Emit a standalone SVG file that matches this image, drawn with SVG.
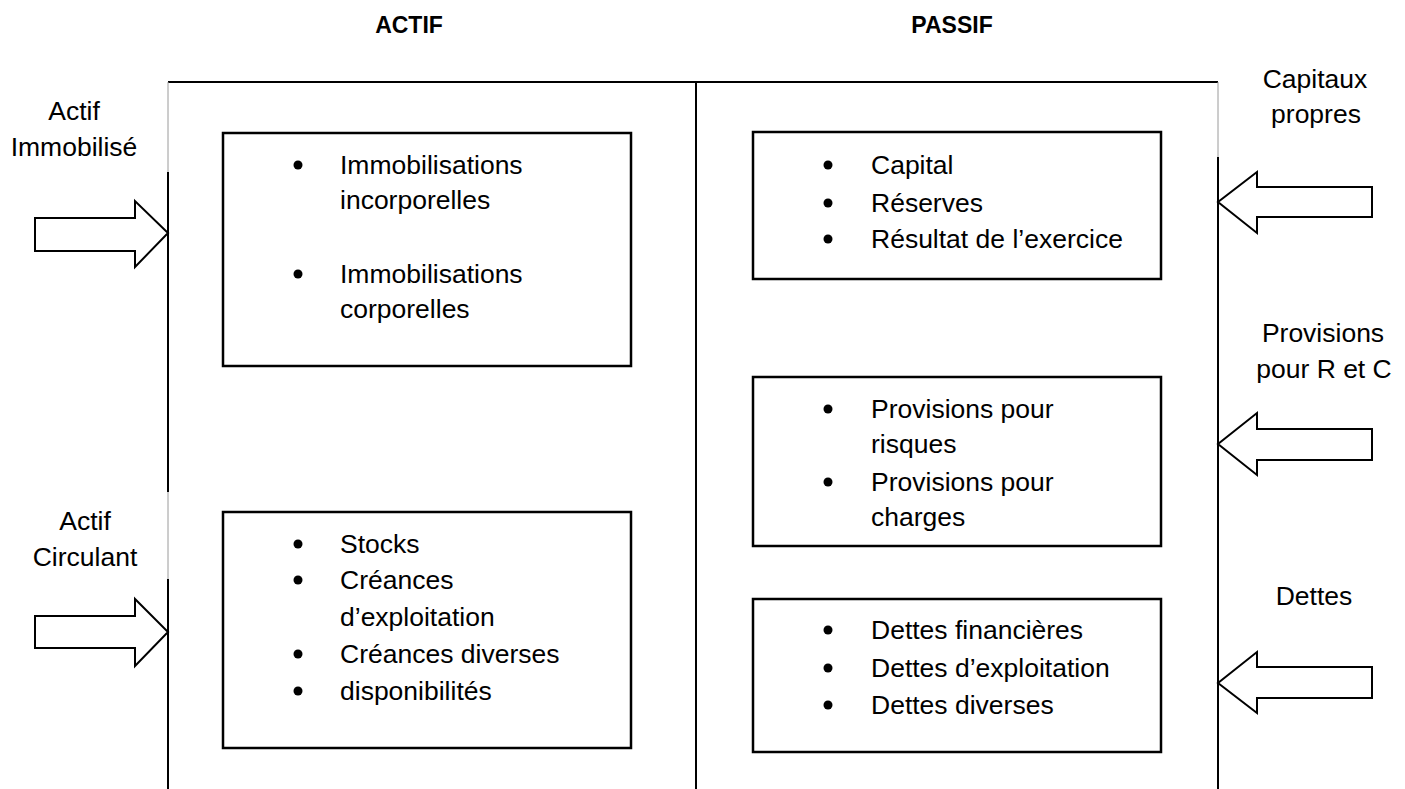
<svg xmlns="http://www.w3.org/2000/svg" width="1405" height="789" viewBox="0 0 1405 789">
<style>
text{font-family:"Liberation Sans",Arial,sans-serif;font-size:26.5px;fill:#000}
.h{font-weight:bold;font-size:23px;text-anchor:middle}
.c{text-anchor:middle}
.box{fill:#fff;stroke:#000;stroke-width:2.5}
.fr{stroke:#000;stroke-width:2;fill:none}
.fg{stroke:#9a9a9a;stroke-width:1;fill:none}
.arr{fill:#fff;stroke:#000;stroke-width:2;stroke-linejoin:miter}
.b{fill:#000}
</style>
<rect width="1405" height="789" fill="#fff"/>
<g id="headers">
<text class="h" x="409" y="33">ACTIF</text>
<text class="h" x="952" y="33">PASSIF</text>
</g>
<g id="frame">
<line class="fr" x1="168" y1="82" x2="1218" y2="82"/>
<line class="fg" x1="168" y1="82" x2="168" y2="172"/>
<line class="fr" x1="168" y1="172" x2="168" y2="492"/>
<line class="fg" x1="168" y1="492" x2="168" y2="579"/>
<line class="fr" x1="168" y1="579" x2="168" y2="789"/>
<line class="fr" x1="696" y1="82" x2="696" y2="789"/>
<line class="fg" x1="1218" y1="82" x2="1218" y2="157"/>
<line class="fr" x1="1218" y1="157" x2="1218" y2="789"/>
</g>
<g id="label-actif-immobilise">
<text class="c" x="74" y="120">Actif</text>
<text class="c" x="74" y="156">Immobilisé</text>
</g>
<g id="label-actif-circulant">
<text class="c" x="85" y="530">Actif</text>
<text class="c" x="85" y="566">Circulant</text>
</g>
<g id="label-capitaux-propres">
<text class="c" x="1315" y="88">Capitaux</text>
<text class="c" x="1316" y="123">propres</text>
</g>
<g id="label-provisions">
<text class="c" x="1323" y="342">Provisions</text>
<text class="c" x="1324" y="378">pour R et C</text>
</g>
<g id="label-dettes">
<text class="c" x="1314" y="605">Dettes</text>
</g>
<g id="box-immobilisations">
<rect class="box" x="223" y="133" width="408" height="233"/>
<circle class="b" cx="298" cy="165" r="4.5"/>
<text x="340" y="174">Immobilisations</text>
<text x="340" y="209">incorporelles</text>
<circle class="b" cx="298" cy="274" r="4.5"/>
<text x="340" y="283">Immobilisations</text>
<text x="340" y="318">corporelles</text>
</g>
<g id="box-circulant">
<rect class="box" x="223" y="512" width="408" height="236"/>
<circle class="b" cx="298" cy="544" r="4.5"/>
<text x="340" y="553">Stocks</text>
<circle class="b" cx="298" cy="580" r="4.5"/>
<text x="340" y="589">Créances</text>
<text x="340" y="626">d’exploitation</text>
<circle class="b" cx="298" cy="654" r="4.5"/>
<text x="340" y="663">Créances diverses</text>
<circle class="b" cx="298" cy="691" r="4.5"/>
<text x="340" y="700">disponibilités</text>
</g>
<g id="box-capitaux">
<rect class="box" x="753" y="132" width="408" height="147"/>
<circle class="b" cx="828" cy="165" r="4.5"/>
<text x="871" y="174">Capital</text>
<circle class="b" cx="828" cy="203" r="4.5"/>
<text x="871" y="212">Réserves</text>
<circle class="b" cx="828" cy="239" r="4.5"/>
<text x="871" y="248">Résultat de l’exercice</text>
</g>
<g id="box-provisions">
<rect class="box" x="753" y="377" width="408" height="169"/>
<circle class="b" cx="828" cy="409" r="4.5"/>
<text x="871" y="418">Provisions pour</text>
<text x="871" y="453">risques</text>
<circle class="b" cx="828" cy="482" r="4.5"/>
<text x="871" y="491">Provisions pour</text>
<text x="871" y="526">charges</text>
</g>
<g id="box-dettes">
<rect class="box" x="753" y="599" width="408" height="153"/>
<circle class="b" cx="828" cy="630" r="4.5"/>
<text x="871" y="639">Dettes financières</text>
<circle class="b" cx="828" cy="668" r="4.5"/>
<text x="871" y="677">Dettes d’exploitation</text>
<circle class="b" cx="828" cy="705" r="4.5"/>
<text x="871" y="714">Dettes diverses</text>
</g>
<g id="connectors">
<polygon class="arr" points="35,218 135,218 135,201 168,233 135,267 135,251 35,251"/>
<polygon class="arr" points="35,616 135,616 135,599 168,632 135,666 135,648 35,648"/>
<polygon class="arr" points="1372,187 1257,187 1257,172 1218,202 1257,233 1257,217 1372,217"/>
<polygon class="arr" points="1372,429 1257,429 1257,413 1218,444 1257,475 1257,460 1372,460"/>
<polygon class="arr" points="1372,667 1257,667 1257,652 1218,683 1257,713 1257,698 1372,698"/>
</g>
</svg>
